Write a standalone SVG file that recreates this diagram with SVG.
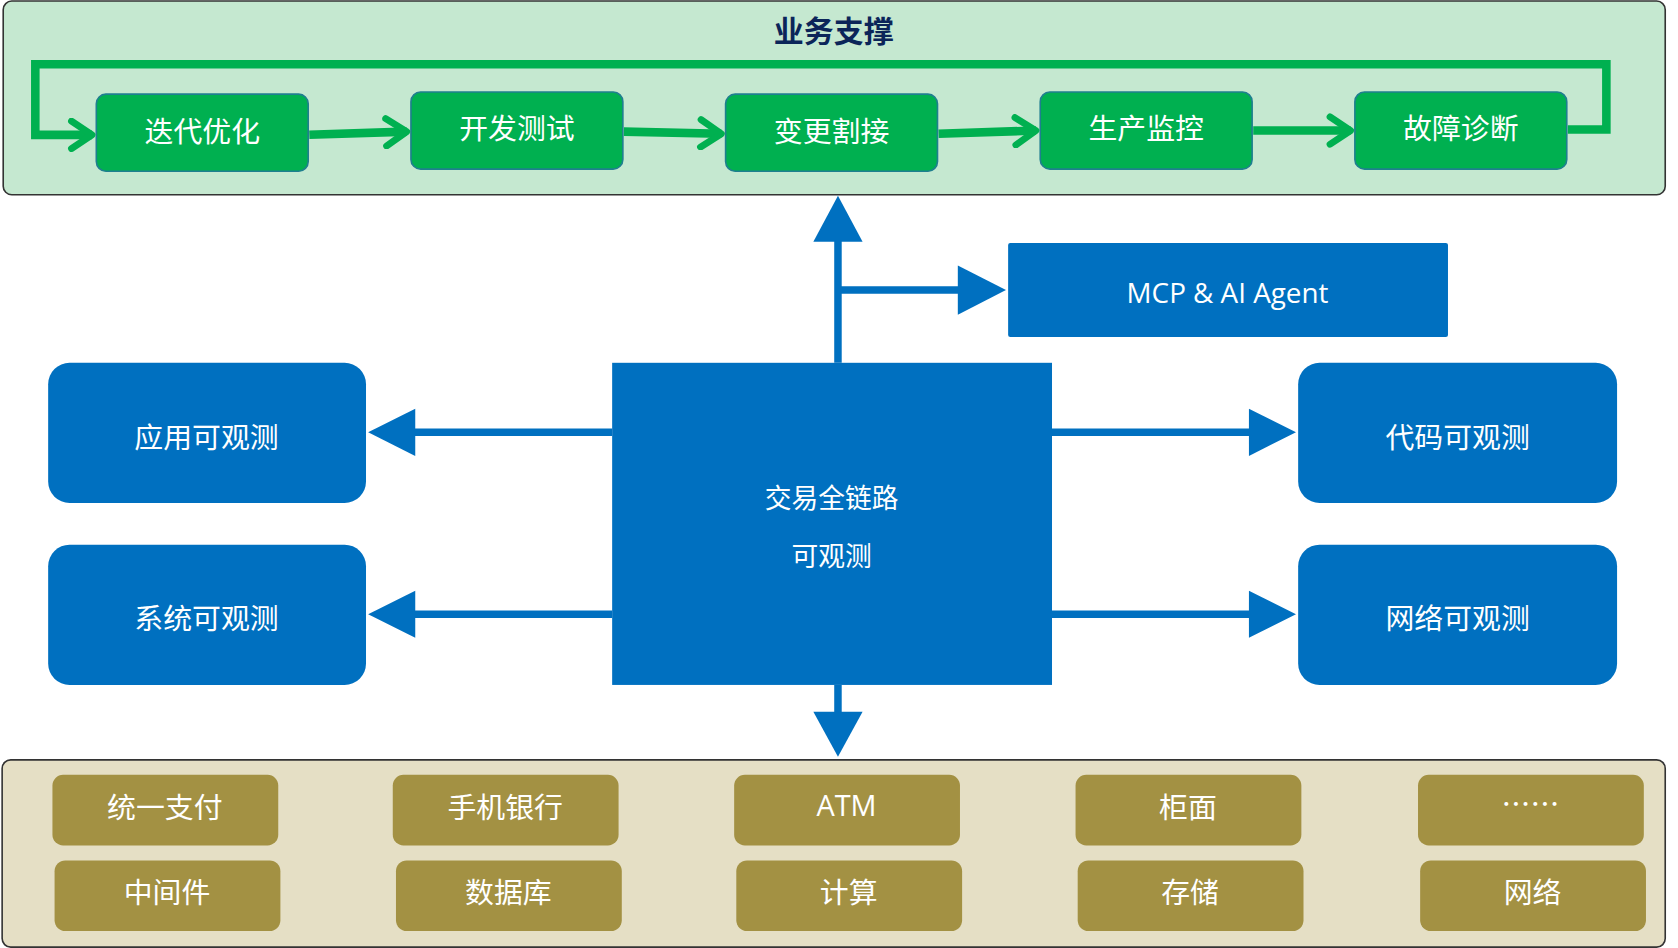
<svg xmlns="http://www.w3.org/2000/svg" width="1678" height="948" viewBox="0 0 1678 948">
<style>
text{font-family:"Noto Sans CJK SC","Noto Sans",sans-serif;fill:#fff;text-anchor:middle;dominant-baseline:central;font-size:27px}
.g{fill:#00b050;stroke:#1f7f8f;stroke-width:1.5}
.b{fill:#0070c0}
.o{fill:#a39143}
.gl{stroke:#00b050;stroke-width:8;fill:none}
.bl{stroke:#0070c0;stroke-width:7;fill:none}
</style>
<defs>
<marker id="chev" viewBox="0 0 10 10" refX="8" refY="5" markerWidth="4" markerHeight="4" markerUnits="strokeWidth" orient="auto">
<path d="M2,1 L8,5 L2,9" fill="none" stroke="#00b050" stroke-width="2" stroke-linecap="round" stroke-linejoin="round"/>
</marker>
</defs>
<rect width="1678" height="948" fill="#fff"/>
<g transform="scale(1.0702)">
<g id="top">
<rect x="3" y="1" width="1553" height="181" rx="8" fill="#c5e8d0" stroke="#333" stroke-width="1.5"/>
<text x="779" y="27" style="fill:#0b2559;font-weight:bold;font-size:28px">业务支撑</text>
</g>
<g id="n1"><rect class="g" x="90" y="88" width="198" height="72" rx="9"/><text x="189" y="121">迭代优化</text></g>
<g id="n2"><rect class="g" x="384" y="86" width="198" height="72" rx="9"/><text x="483" y="118">开发测试</text></g>
<g id="n3"><rect class="g" x="678" y="88" width="198" height="72" rx="9"/><text x="777" y="121">变更割接</text></g>
<g id="n4"><rect class="g" x="972" y="86" width="198" height="72" rx="9"/><text x="1071" y="118">生产监控</text></g>
<g id="n5"><rect class="g" x="1266" y="86" width="198" height="72" rx="9"/><text x="1365" y="118">故障诊断</text></g>
<g id="mcp"><rect class="b" x="942" y="227" width="411" height="88" rx="2"/><text x="1147" y="273" style="font-family:'Open Sans',sans-serif;font-size:26px">MCP &amp; AI Agent</text></g>
<g id="center"><rect class="b" x="572" y="339" width="411" height="301"/><text x="777" y="464" style="font-size:25px">交易全链路</text><text x="777" y="518" style="font-size:25px">可观测</text></g>
<g id="app"><rect class="b" x="45" y="339" width="297" height="131" rx="20"/><text x="193" y="406">应用可观测</text></g>
<g id="sys"><rect class="b" x="45" y="509" width="297" height="131" rx="20"/><text x="193" y="576">系统可观测</text></g>
<g id="code"><rect class="b" x="1213" y="339" width="298" height="131" rx="20"/><text x="1362" y="406">代码可观测</text></g>
<g id="net"><rect class="b" x="1213" y="509" width="298" height="131" rx="20"/><text x="1362" y="576">网络可观测</text></g>
<g id="bottom">
<rect x="2" y="710" width="1554" height="175" rx="8" fill="#e5dfc5" stroke="#333" stroke-width="1.5"/>
</g>
<g id="b1"><rect class="o" x="49" y="724" width="211" height="66" rx="10"/><text x="154" y="752">统一支付</text></g>
<g id="b2"><rect class="o" x="367" y="724" width="211" height="66" rx="10"/><text x="472" y="752">手机银行</text></g>
<g id="b3"><rect class="o" x="686" y="724" width="211" height="66" rx="10"/><text x="791" y="752" style="font-family:'Open Sans',sans-serif">ATM</text></g>
<g id="b4"><rect class="o" x="1005" y="724" width="211" height="66" rx="10"/><text x="1110" y="752">柜面</text></g>
<g id="b5"><rect class="o" x="1325" y="724" width="211" height="66" rx="10"/><text x="1430" y="749">……</text></g>
<g id="b6"><rect class="o" x="51" y="804" width="211" height="66" rx="10"/><text x="156" y="832">中间件</text></g>
<g id="b7"><rect class="o" x="370" y="804" width="211" height="66" rx="10"/><text x="475" y="832">数据库</text></g>
<g id="b8"><rect class="o" x="688" y="804" width="211" height="66" rx="10"/><text x="793" y="832">计算</text></g>
<g id="b9"><rect class="o" x="1007" y="804" width="211" height="66" rx="10"/><text x="1112" y="832">存储</text></g>
<g id="b10"><rect class="o" x="1327" y="804" width="211" height="66" rx="10"/><text x="1432" y="832">网络</text></g>
<g id="connectors">
<path class="gl" d="M1465,121 H1501 V60 H33 V126 H86" marker-end="url(#chev)"/>
<path class="gl" d="M289,126 L380,123" marker-end="url(#chev)"/>
<path class="gl" d="M583,123 L674,125" marker-end="url(#chev)"/>
<path class="gl" d="M877,125 L968,122" marker-end="url(#chev)"/>
<path class="gl" d="M1171,122 L1262,122" marker-end="url(#chev)"/>
<path class="bl" d="M783,339 V224 M783,271 H896 M783,640 V666 M572,404 H386 M572,574 H386 M983,404 H1169 M983,574 H1169"/>
<g class="b">
<polygon points="783,183 760,226 806,226"/>
<polygon points="940,271 895,248 895,294"/>
<polygon points="783,707 760,665 806,665"/>
<polygon points="344,404 388,382 388,426"/>
<polygon points="344,574 388,552 388,596"/>
<polygon points="1211,404 1167,382 1167,426"/>
<polygon points="1211,574 1167,552 1167,596"/>
</g>
</g>
</g>
</svg>
